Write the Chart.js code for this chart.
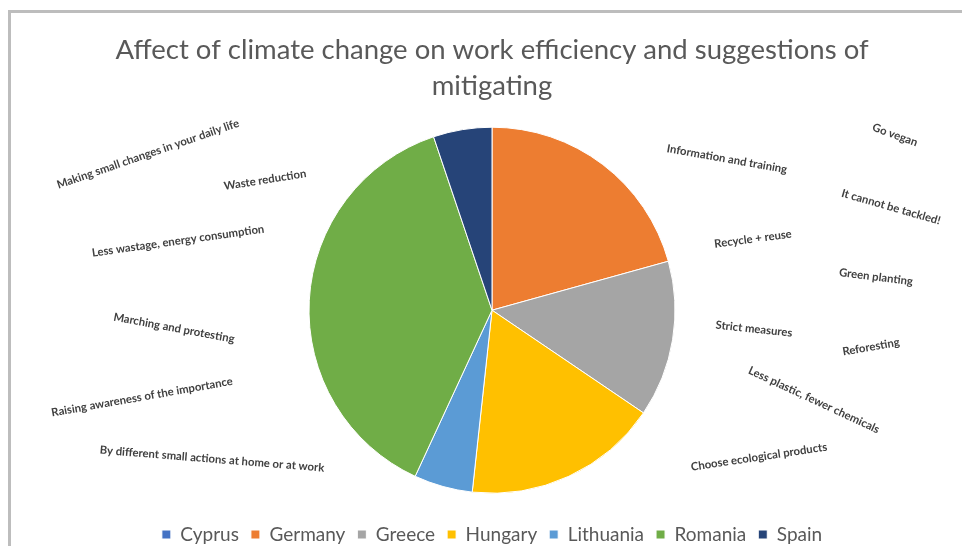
<!DOCTYPE html>
<html>
<head>
<meta charset="utf-8">
<script src="https://cdn.jsdelivr.net/npm/chart.js@4/dist/chart.umd.min.js"></script>
<style>
  html, body { margin: 0; padding: 0; background: #ffffff; }
  #wrap { position: relative; width: 962px; height: 546px; }
</style>
</head>
<body>
<div id="wrap"><canvas id="chart" width="962" height="546"></canvas></div>
<script>
// Countries and the number of answers from each
const countries = ['Cyprus', 'Germany', 'Greece', 'Hungary', 'Lithuania', 'Romania', 'Spain'];
const answers = [0, 12, 8, 10, 3, 22, 3];
const sliceColors = ['#4472C4', '#ED7D31', '#A5A5A5', '#FFC000', '#5B9BD5', '#70AD47', '#264478'];

// Suggested ways of mitigating, written around the pie
const suggestions = [
  'Making small changes in your daily life',
  'Waste reduction',
  'Less wastage, energy consumption',
  'Marching and protesting',
  'Raising awareness of the importance',
  'By different small actions at home or at work',
  'Information and training',
  'Go vegan',
  'It cannot be tackled!',
  'Recycle + reuse',
  'Green planting',
  'Strict measures',
  'Reforesting',
  'Less plastic, fewer chemicals',
  'Choose ecological products'
];

// Where each suggestion sits: centre x, centre y, tilt in degrees
const suggestionPlacement = [
  [148, 154, -19],
  [265, 180, -9],
  [178, 241, -8],
  [174, 328, 10.5],
  [142, 397, -10],
  [212, 459, 4.6],
  [727, 159, 10],
  [895, 135, 20],
  [891, 207, 16],
  [753, 239, -7.5],
  [876, 277, 7],
  [754, 329, 6],
  [871, 347, -10],
  [814, 400, 25],
  [759, 457, -8.5]
];

const suggestionNotes = {
  id: 'suggestionNotes',
  beforeDraw(chart) {
    const ctx = chart.ctx;
    ctx.save();
    // frame edge along the top and left
    ctx.fillStyle = '#BDBDBD';
    ctx.fillRect(8, 10, chart.width - 8, 3);
    ctx.fillRect(8, 10, 3, chart.height - 10);
    ctx.restore();
  },
  afterDraw(chart) {
    const ctx = chart.ctx;
    ctx.save();
    ctx.font = 'bold 11.3px Lato, "Open Sans", sans-serif';
    ctx.fillStyle = '#404040';
    ctx.textAlign = 'center';
    ctx.textBaseline = 'middle';
    suggestions.forEach((text, i) => {
      const [x, y, deg] = suggestionPlacement[i];
      ctx.save();
      ctx.translate(x, y);
      ctx.rotate(deg * Math.PI / 180);
      ctx.fillText(text, 0, 0);
      ctx.restore();
    });
    ctx.restore();
  }
};

new Chart(document.getElementById('chart'), {
  type: 'pie',
  data: {
    labels: countries,
    datasets: [{
      data: answers,
      backgroundColor: sliceColors,
      borderColor: '#ffffff',
      borderWidth: 1,
      radius: 183
    }]
  },
  options: {
    responsive: false,
    animation: false,
    layout: { padding: { left: 22, right: 0, top: 0, bottom: -8 } },
    plugins: {
      title: {
        display: true,
        text: ['Affect of climate change on work efficiency and suggestions of', 'mitigating'],
        color: '#595959',
        font: { family: 'Lato, "Open Sans", sans-serif', size: 27.5, weight: '400', lineHeight: 1.28 },
        padding: { top: 33, bottom: 4 }
      },
      legend: {
        position: 'bottom',
        labels: {
          color: '#595959',
          font: { family: 'Lato, "Open Sans", sans-serif', size: 19 },
          boxWidth: 9,
          boxHeight: 9,
          padding: 12
        }
      },
      tooltip: { enabled: false }
    }
  },
  plugins: [suggestionNotes]
});
</script>
</body>
</html>
